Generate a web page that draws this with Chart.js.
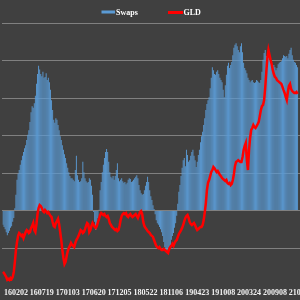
<!DOCTYPE html>
<html>
<head>
<meta charset="utf-8">
<script src="https://cdn.jsdelivr.net/npm/chart.js@4/dist/chart.umd.min.js"></script>
<style>
html,body{margin:0;padding:0;overflow:hidden;background:#404040;width:300px;height:300px;}
canvas{display:block;}
</style>
</head>
<body>
<canvas id="c" width="320" height="300"></canvas>
<script>
// Weekly data, first week ~151110; tick labels every 24 weeks starting at week index 12
const tickLabels = ['160202','160719','170103','170620','171205','180522','181106','190423','191008','200324','200908','210223'];
const firstTickIndex = 12;
const tickEvery = 24;
const totalWeeks = 292; // axis span (part of it runs past the visible edge)

const swaps = [
-19,-22,-25,-29,-33,-30,-27,-23,-21,-15,-10,3,21,41,49,54,61,67,73,78,
83,87,94,101,107,118,131,139,137,143,153,169,182,193,188,182,179,185,177,178,
183,174,177,171,161,147,134,121,117,123,121,114,107,99,94,87,81,75,70,63,
57,51,46,43,43,41,39,54,73,47,41,38,39,43,65,51,43,39,37,38,
43,41,33,21,-2,-15,-26,-21,-10,1,27,38,51,61,70,78,82,78,65,51,
45,43,46,41,46,54,63,43,39,41,43,39,37,38,35,37,41,43,42,38,
39,41,43,45,47,43,34,27,23,21,22,27,33,38,45,38,27,19,14,7,
2,-5,-13,-17,-19,-22,-25,-29,-34,-42,-49,-53,-55,-53,-49,-46,-39,-34,-30,-23,
-17,-7,9,25,34,46,57,67,70,59,81,74,65,67,73,78,81,73,67,58,
65,74,81,91,99,105,114,123,134,142,147,151,163,177,191,187,182,181,185,187,
182,177,174,171,161,151,167,181,193,197,190,194,198,207,217,221,223,219,214,211,
219,223,211,197,190,187,183,177,174,171,173,174,171,170,171,174,173,171,170,174,
185,201,210,214,206,201,205,201,197,193,191,194,191,187,190,195,197,198,199,203,
207,206,205,206,203,209,214,217,207,201,198,197,194,191
];

const gld = [
103.6,103.1,102.3,101.5,100.3,100.7,100.3,101.1,100.7,101.5,103.6,107.7,112.6,115.9,118.4,119.6,119.2,118.4,118.8,117.5,
118.8,120.0,120.8,120.4,119.6,120.0,121.7,122.5,123.7,120.8,120.0,123.3,127.4,129.9,131.1,130.7,129.9,128.6,128.2,129.1,
128.6,127.8,128.2,127.4,126.6,126.2,124.1,122.5,122.1,123.7,124.5,125.4,123.3,120.0,116.7,112.6,109.3,106.8,107.7,110.1,
112.2,113.4,114.3,115.5,114.7,114.3,113.8,115.5,116.7,117.5,118.4,119.6,120.8,120.4,119.6,120.0,121.2,122.5,123.7,123.3,
120.0,120.8,122.5,123.7,122.9,122.1,121.7,122.5,124.1,125.4,127.0,127.8,127.4,127.0,127.4,126.6,126.2,126.6,125.4,123.7,
122.9,122.1,121.7,121.2,120.8,121.2,120.4,120.8,122.5,124.9,126.6,127.4,127.8,127.4,127.8,126.6,126.2,127.0,127.4,126.6,
126.2,126.6,127.0,127.4,126.6,125.8,127.0,128.2,128.6,127.4,124.1,122.5,121.7,121.2,120.4,120.0,119.6,118.8,118.4,118.0,
116.7,115.5,114.3,113.8,113.4,113.8,113.0,112.6,112.6,113.0,112.6,112.2,111.8,111.4,113.0,113.8,114.3,115.1,114.3,115.5,
116.3,116.7,118.0,119.2,120.0,120.8,121.7,122.9,124.5,125.8,126.6,127.0,125.8,124.1,123.3,122.9,123.3,123.7,122.9,121.7,
120.8,121.2,121.7,122.1,122.1,122.9,124.9,128.2,131.9,137.3,140.2,141.4,143.0,144.7,145.5,146.8,146.3,145.5,144.7,145.1,
144.3,143.5,143.0,142.2,141.8,141.4,141.0,141.4,140.2,139.8,140.2,139.3,139.8,141.4,143.9,147.2,148.8,149.2,149.6,149.2,
148.8,148.8,150.9,153.7,155.4,156.6,149.6,145.5,153.7,158.7,162.0,162.8,164.0,163.2,162.8,163.6,164.4,165.3,167.7,170.2,
171.8,172.3,174.3,179.3,185.8,191.6,194.9,192.8,190.8,189.1,186.7,185.0,183.8,183.4,182.5,182.1,181.7,181.3,180.9,179.7,
178.4,177.2,175.6,174.3,177.6,180.1,180.9,178.8,178.0,177.6,177.2,177.2,177.6,176.8
];

const weekLabels = [];
for (let i = 0; i < totalWeeks; i++) {
  const k = i - firstTickIndex;
  weekLabels.push(k >= 0 && k % tickEvery === 0 && k / tickEvery < tickLabels.length ? tickLabels[k / tickEvery] : '');
}

const legendPlugin = {
  id: 'topLegend',
  afterDraw(chart) {
    const ctx = chart.ctx;
    const ds = chart.data.datasets;
    ctx.save();
    ctx.font = 'bold 8px "Liberation Serif", "Times New Roman", serif';
    ctx.textBaseline = 'middle';
    ctx.fillStyle = ds[0].backgroundColor;
    ctx.fillRect(101.5, 10.5, 13.5, 3);
    ctx.fillStyle = '#ffffff';
    ctx.fillText(ds[0].label, 116, 12.5);
    ctx.fillStyle = ds[1].borderColor;
    ctx.fillRect(168, 11, 15, 3);
    ctx.fillStyle = '#ffffff';
    ctx.fillText(ds[1].label, 183.5, 12.5);
    ctx.restore();
  }
};

new Chart(document.getElementById('c'), {
  data: {
    labels: weekLabels,
    datasets: [
      {
        type: 'bar',
        label: 'Swaps',
        data: swaps,
        backgroundColor: '#5b9bd5',
        borderWidth: 0,
        barPercentage: 0.86,
        categoryPercentage: 1.0,
        yAxisID: 'y',
        order: 1
      },
      {
        type: 'line',
        label: 'GLD',
        data: gld,
        borderColor: '#ff0000',
        backgroundColor: '#ff0000',
        borderWidth: 2.5,
        pointRadius: 0,
        tension: 0,
        fill: false,
        yAxisID: 'y2',
        order: 0
      }
    ]
  },
  options: {
    responsive: false,
    animation: false,
    events: [],
    layout: { padding: { top: 23, bottom: 0, left: 0, right: 0 } },
    plugins: { legend: { display: false }, tooltip: { enabled: false } },
    scales: {
      x: {
        type: 'category',
        offset: true,
        grid: { display: false, drawTicks: false },
        border: { display: false },
        afterFit: (scale) => { scale.height = 14.5; },
        ticks: {
          autoSkip: false,
          maxRotation: 0,
          minRotation: 0,
          padding: 3,
          color: '#f2f2f2',
          font: { family: '"Liberation Serif", "Times New Roman", serif', size: 8, weight: 'bold' },
          callback: function(v, i) { return weekLabels[i]; }
        }
      },
      y: {
        position: 'left',
        min: -100,
        max: 250,
        border: { display: false },
        grid: {
          drawTicks: false,
          lineWidth: 1,
          color: (c) => (c.tick && c.tick.value === -100) ? 'rgba(0,0,0,0)' : '#808080'
        },
        ticks: { display: false, stepSize: 50 }
      },
      y2: {
        position: 'right',
        min: 98,
        max: 206,
        border: { display: false },
        grid: { display: false, drawTicks: false },
        ticks: { display: false }
      }
    }
  },
  plugins: [legendPlugin]
});
</script>
</body>
</html>
